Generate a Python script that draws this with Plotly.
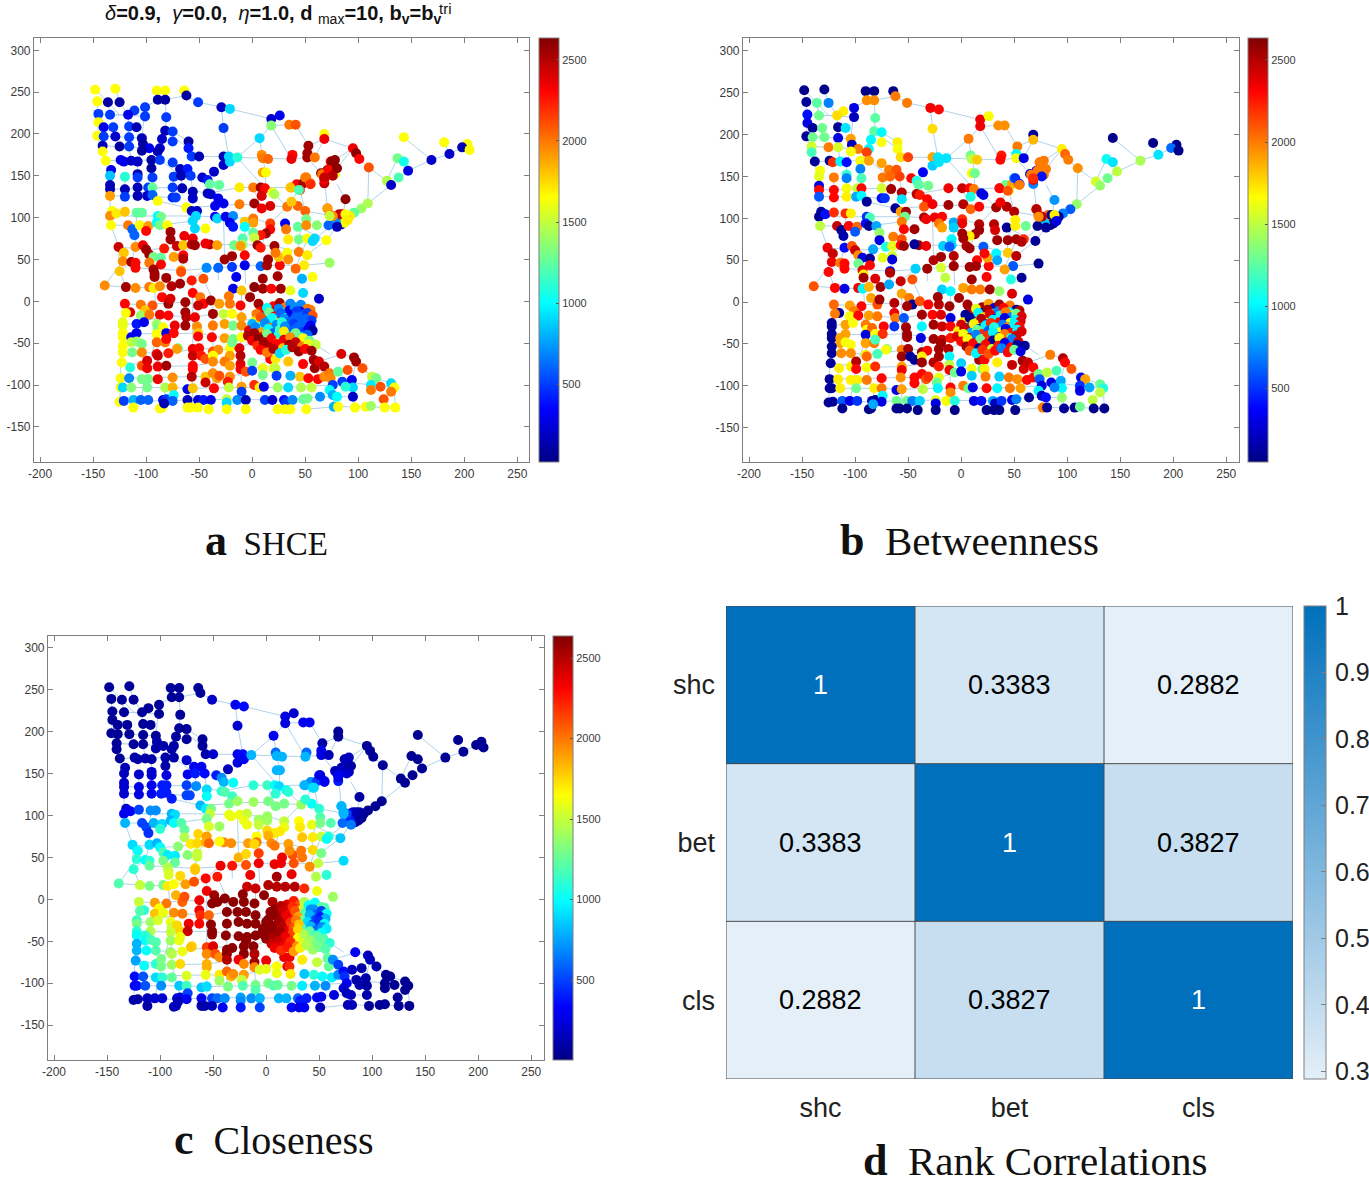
import plotly.graph_objects as go

W, H = 1369, 1180

# ---------- node positions and panel values, by region ----------
nw_x = [-148,-129,-90,-82,-64,-62,-51,-89,-82,-146,
        -136,-125,-111,-101,-145,-134,-117,-101,-81,-29,
        -21,-145,-140,-131,-116,-109,-82,-75,-146,-140,
        -129,-116,-104,-85,-27,-141,-125,-116,-103,-97,
        -87,-75,-60,-60,-141,-104,-89,-57,-50,-27,
        -22,-36,-27,-21,-138,-124,-121,-114,-108,-95,
        -95,-87,-75,-68,-61,-133,-134,-120,-108,-108,
        -94,-74,-67,-58,-47,-42,-40,-31,-134,-134,
        -134,-120,-120,-108,-108,-98,-94,-99,-94,-89,
        -75,-75,-72,-66,-56,-56,-42,-39,-32]
nw_y = [253,254,252,252,252,246,238,241,241,239,
        238,238,228,232,224,223,223,221,220,232,
        230,214,208,208,209,208,204,203,198,197,
        197,196,195,194,207,186,185,185,188,183,
        183,191,191,183,179,180,179,173,173,173,
        173,155,163,167,168,169,167,168,167,169,
        159,169,166,158,158,157,150,149,152,148,
        148,149,150,150,148,145,140,139,139,134,
        126,134,125,136,126,136,136,126,127,120,
        136,124,124,135,131,123,129,128,123]
nw_shce = [1650,1650,1650,1650,1650,100,500,100,100,1650,
           100,100,500,500,500,500,300,500,500,200,
           900,1650,300,500,500,150,150,500,1650,500,
           200,500,150,200,500,150,100,500,100,300,
           200,500,100,400,1650,100,150,500,150,150,
           900,200,200,900,1650,300,300,200,200,100,
           100,500,500,150,400,300,850,1100,150,500,
           500,500,150,500,200,400,1250,1250,150,150,
           1900,150,500,150,150,500,1250,200,600,1650,
           500,450,500,150,150,200,150,200,300]
nw_bet = [60,60,60,60,60,2000,2000,1950,1950,100,
          1250,700,1700,300,400,1300,1750,200,1250,2350,
          2300,300,100,1300,100,950,1250,1000,100,1300,
          1300,300,1900,1000,1750,1550,2000,1550,200,2000,
          1000,1650,1700,1650,1200,1650,2150,1750,2150,1900,
          950,350,900,950,100,100,2200,1000,400,1650,
          700,1900,1900,2000,2100,1650,1600,2000,1150,700,
          1200,2000,2050,2150,2300,1100,1250,1300,300,2300,
          600,2300,2300,1650,1700,1500,2300,800,1000,100,
          1550,400,500,2550,2500,950,2500,2250,2300]
nw_cls = [60,60,60,60,60,60,180,60,60,60,
          60,60,60,60,60,60,60,60,60,300,
          350,60,60,60,60,60,60,60,60,60,
          60,60,60,80,200,60,60,60,100,100,
          100,60,60,60,60,100,100,100,200,300,
          350,150,250,300,60,100,100,100,100,100,
          100,100,200,300,300,150,150,200,200,200,
          250,300,400,350,400,700,800,1000,200,200,
          200,250,250,300,300,400,400,400,400,400,
          500,500,500,700,900,1000,1100,1200,1150]

ne_x = [-14,18,26,18,35,41,7,68,68,53,
        9,10,15,38,37,52,52,59,10,13,
        -12,1,8,12,9,19,21,37,42,48,
        45,50,55,68,65,74,74,71,66,68,
        78,95,98,101,110,143,181,203,198,205,
        186,169,137,143,147,138,127,131,109,103,
        96,88,92,88,85,82,79,82,85,88,
        84,87,90,79,76,73,71,72,80,75,
        72,80,78,76,68,51,55,36,44,71,
        -12,2,9,17,33,43,50,37,73]
ne_y = [172,218,222,210,211,211,195,200,194,186,
        175,171,170,175,170,177,172,172,154,154,
        136,136,136,135,126,130,128,136,140,141,
        133,148,141,141,153,167,157,157,152,146,
        152,183,177,170,160,196,190,188,184,181,
        176,169,171,167,156,148,144,139,117,111,
        106,122,102,100,98,96,102,104,104,104,
        92,94,97,94,102,104,111,91,89,167,
        157,159,169,150,148,148,140,136,133,111,
        116,117,111,114,113,114,108,119,102]
ne_shce = [1100,200,300,1350,2000,2100,900,1650,2350,2550,
           1950,2000,2050,2300,2350,2550,2550,2000,1900,1650,
           1700,2000,2550,2300,2400,1600,1450,2000,2300,2550,
           2200,2000,2000,2450,2600,2300,2350,2550,2000,2300,
           1600,2350,2600,2300,2100,1650,1650,1650,150,1650,
           200,200,1300,1050,250,1200,1450,200,1450,1400,
           1250,2600,1700,200,700,900,1800,2500,2400,1650,
           100,1650,1700,700,1950,2000,2050,600,150,2600,
           2300,2600,2600,2500,2450,2000,2200,1800,1200,1900,
           2000,2550,2350,2400,2000,2050,2050,1800,1500]
ne_bet = [950,2350,1650,2350,1950,1950,2000,100,1850,2000,
          1300,1500,1800,2250,2300,1000,1650,300,1650,1300,
          2350,2450,2300,2000,1100,300,300,2300,1300,1900,
          1700,800,300,700,300,2050,2000,300,2000,2300,
          2000,1700,2050,2000,1950,60,60,60,650,60,
          950,1450,1050,950,1500,1300,1550,1400,1400,600,
          700,750,100,100,1000,1700,1950,2050,100,1700,
          80,100,300,900,2500,2300,2250,80,100,2000,
          2000,2000,2000,400,2200,500,2000,2300,2100,2500,
          2550,2500,2050,2300,2550,2500,2500,2350,1950]
ne_cls = [800,250,200,250,300,300,300,60,60,100,
          600,800,800,600,800,300,250,150,800,800,
          1100,1150,1000,900,1100,1000,1100,800,700,500,
          900,400,400,400,150,100,150,100,150,200,
          150,60,60,60,60,40,40,40,40,40,
          40,40,40,40,40,40,40,40,40,40,
          40,80,50,60,80,120,300,200,150,100,
          70,70,60,400,500,800,800,600,650,150,
          150,100,150,200,300,250,300,800,900,800,
          1400,1300,1300,1300,1400,1000,1100,1100,800]

mid_x = [-132,-134,-128,-120,-109,-104,-89,-86,-62,-57,
         -52,-35,-27,-53,-35,-33,-25,-18,-133,-117,
         -113,-111,-106,-98,-100,-90,-87,-80,-77,-56,
         -7,1,1,-21,-18,-7,17,31,32,43,
         51,51,61,17,13,8,1,2,-9,-54,
         -44,-64,-56,-77,-71,-65,-57,-54,-40,-33,
         -44,-17,-9,-11,5,8,21,34,44,52,
         59,57,70,-126,-110,-103,-100,-97,-83,-121,
         -122,-114,-110,-93,-86,-74,-65,-65,-97,-86,
         -125,-110,-93,-67,-26,-19,-7,-7,-19,-43,
         -32,8,15,14,26,25,33,34,44,52,
         49,41,22,73]
mid_y = [108,102,105,107,106,106,102,101,112,108,
         108,114,117,102,101,99,101,102,91,91,
         86,79,91,90,84,94,91,91,83,96,
         95,99,94,94,89,89,93,93,86,89,
         98,91,91,86,81,79,82,76,75,87,
         87,78,75,74,66,67,68,67,68,67,
         69,67,68,66,67,64,66,74,74,75,
         75,72,73,65,65,67,62,56,63,58,
         48,47,46,53,52,53,55,51,46,44,
         36,40,38,37,50,54,55,43,41,40,
         40,42,50,43,43,53,58,50,59,55,
         43,39,58,46]
mid_shce = [1650,1950,1700,1800,1250,1250,1000,1300,1650,200,
            200,300,300,900,300,900,300,700,1650,2000,
            600,600,1650,1900,2300,1000,1300,1650,2550,900,
            1800,2000,1900,300,400,1000,2150,300,2000,1250,
            1300,1950,1350,2300,2550,2250,1250,1500,1200,900,
            1650,2350,2350,2550,2450,1800,2500,2550,2500,1900,
            2350,1300,1400,1900,2550,2250,2550,1700,1300,1650,
            900,900,1650,2450,1950,2350,2550,2550,2250,1800,
            1950,2550,2300,1300,1250,1900,2300,2500,2000,2300,
            1800,2300,2550,1900,2550,2550,2300,300,500,700,
            600,600,2550,2550,2300,1800,1650,1950,2000,1700,
            1700,2050,2000,1400]
mid_bet = [100,100,400,2200,2200,1700,500,1200,100,1900,
           2550,2100,2350,1300,2550,2350,2350,2300,1500,2450,
           100,150,2300,2050,600,400,100,800,1400,2000,
           800,2200,2350,2000,1900,900,2500,2500,2400,100,
           1700,1700,1300,2550,2550,1700,2550,2550,1000,2300,
           2550,2000,2100,300,1100,1600,2300,2550,2550,2350,
           100,900,900,600,2500,2550,600,2550,2550,2550,
           2200,2500,100,2350,400,2100,2450,1950,800,2450,
           2350,2000,2300,300,100,1600,1550,300,1300,2300,
           2300,2300,2350,300,2500,2550,2500,2550,1550,900,
           2550,2550,2300,2550,2300,1900,1000,800,1800,2500,
           600,1900,2300,80]
mid_cls = [200,300,300,500,700,700,800,900,800,950,
           1300,1300,1400,1500,1600,1600,1600,1500,800,500,
           500,450,800,900,1100,800,1000,1200,1250,1300,
           1400,1400,1400,1600,1600,1500,1500,1650,1700,1600,
           1200,1300,1200,1600,1700,1700,1750,1850,1650,1550,
           1400,1750,1900,1450,1700,1750,1850,2050,1950,1950,
           1650,1900,2000,1750,1950,2000,1900,1800,1700,1500,
           1100,1000,850,900,900,800,1000,1200,1350,1000,
           1100,1000,1100,950,950,1350,1500,1500,1300,1250,
           1100,1250,1450,1750,1850,1750,2150,2350,2100,2350,
           2250,2350,2350,2350,2100,2100,2000,2000,1750,1300,
           1500,1950,1950,900]

low_x = [-139,-119,-110,-97,-92,-92,-81,-93,-87,-76,
         -68,-67,-57,-46,-15,47,57,24,10,-18,
         -10,2,10,18,27,36,48,63,-120,-105,
         -94,-85,-79,-77,-63,-56,-49,-46,-39,-31,
         -22,-21,-11,-2,6,-115,-119,-101,-105,-97,
         -87,-79,-63,-62,-54,-51,-37,-27,-19,-10,
         -122,-122,-109,-102,-90,-89,-84,-73,-63,-52,
         -37,-26,-18,-10,-122,-109,-90,-81,-74,-51,
         -51,-38,-26,-18,-10,-122,-114,-114,-109,-104,
         -90,-82,-81,-70,-71,-56,-50,-37,-32,-21,
         -12,-19,-122,-122,-113,-104,-90,-89,-79,-56,
         -48,-44,-37,-37,-21,-11,-123,-115,-104,-99,
         -99,-89,-81,-56,-56,-26,-21,-11,-11,0]
low_y = [19,17,16,17,33,29,28,16,18,18,
         21,35,25,27,29,27,29,30,27,15,
         13,17,15,15,15,13,10,3,-3,-4,
         -5,5,-3,3,-1,10,5,-3,1,-3,
         6,-3,-5,5,-3,-13,-14,-11,-17,-16,
         -16,-17,-13,-19,-19,-5,-15,-15,-15,-19,
         -25,-29,-27,-25,-27,-33,-31,-29,-29,-30,
         -29,-27,-29,-29,-38,-38,-39,-38,-38,-38,
         -42,-43,-44,-45,-43,-43,-43,-49,-48,-51,
         -49,-49,-45,-56,-57,-57,-56,-60,-58,-56,
         -56,-49,-53,-61,-61,-61,-63,-65,-62,-65,
         -65,-69,-65,-72,-65,-65,-73,-79,-77,-71,
         -80,-78,-77,-77,-81,-72,-77,-75,-81,-73]
low_shce = [1950,2550,1950,2000,2550,2550,2550,1700,1950,2500,
            2550,2100,2250,2100,300,800,1650,2550,2550,300,
            1800,2600,2550,2300,2550,1600,900,200,2300,2000,
            2100,2300,2550,2400,2550,2300,2000,2300,2550,1900,
            2000,2000,2300,2550,2550,2400,1650,1800,1400,2000,
            2350,2300,2550,2500,2350,2450,2550,1500,1650,1900,
            1600,1600,400,300,1400,1300,1650,2350,2550,1950,
            2000,1900,1300,1950,1650,300,1650,300,2300,1800,
            2300,2300,1900,1300,1650,1650,300,1500,1400,1300,
            2050,2000,2300,1300,1900,2350,2300,2100,1950,1650,
            2400,1300,1650,1650,1300,1950,2350,2450,2250,2450,
            2250,2100,1650,1950,1900,2500,1650,1100,2100,2400,
            2350,2350,2550,2300,2300,2000,1900,2400,2350,1300]
low_bet = [2100,2300,300,2350,1700,2550,2400,1000,1850,2550,
           800,2500,2450,2100,1500,1100,100,2300,2550,900,
           1000,1900,2000,2000,2550,1400,2400,300,2050,1900,
           2300,1900,2100,2550,2500,1900,2000,100,2100,2300,
           2550,2500,2550,2550,2550,100,2000,2000,1650,2300,
           1900,2000,2350,2000,600,2550,2550,2300,2400,300,
           100,100,1900,1650,2000,1650,2050,2300,500,2550,
           1000,2550,2450,2300,100,1900,300,1650,2200,2550,
           2550,300,2550,2450,2250,100,1900,1900,1650,1650,
           1900,2000,1200,1300,1650,2000,2550,2550,2300,2550,
           2500,2550,100,100,1950,1950,1700,2050,1200,2550,
           100,100,1700,2550,2550,1000,100,1700,1700,2500,
           2300,1650,2200,1900,2350,2500,2250,1500,2350,900]
low_cls = [1200,1500,1300,1300,1500,1550,1750,1700,1650,1900,
           2100,1800,2300,2250,2350,1450,1100,2350,2550,2450,
           2450,2500,2500,2500,2500,2200,1600,1400,1500,1900,
           2000,1850,2050,2100,2350,2350,2560,2600,2600,2600,
           2600,2600,2600,2600,2500,1100,1200,1650,1800,1600,
           1950,2000,2350,2200,2050,2600,2600,2600,2600,2600,
           1150,1300,1400,1550,1600,1500,1750,2350,2300,2600,
           2600,2600,2600,2600,1100,1450,1500,1750,2450,2600,
           2600,2600,2600,2600,2600,1000,1100,1000,1150,1200,
           1400,1600,1600,1750,1800,2150,2400,2600,2600,2600,
           2600,2600,800,800,1000,1200,1350,1450,1600,1950,
           2100,1950,2600,2500,2600,2500,750,1000,1100,1300,
           1300,1400,1750,1850,1850,2350,1950,2550,1950,2350]

south_x = [-124,-116,-104,-98,-89,-75,-57,-44,-37,-33,
           -31,-21,-23,-124,-122,-114,-99,-82,-75,-61,
           -56,-44,-36,-22,-10,-10,-6,0,10,2,
           7,11,24,34,46,56,17,22,34,48,
           58,59,20,22,10,23,36,45,53,62,
           68,63,68,73,74,76,73,84,96,98,
           104,81,90,85,94,95,88,113,117,112,
           121,112,131,134,131,76,80,95,97,107,
           112,124,125,135,77,81,-125,-121,-112,-105,
           -98,-84,-81,-74,-75,-61,-51,-46,-39,-24,
           -24,-14,-6,12,19,30,32,38,48,52,
           64,-112,-87,-85,-83,-61,-58,-51,-41,-24,
           -6,24,31,36,51]
south_y = [-92,-92,-93,-93,-93,-91,-90,-90,-86,-92,
           -89,-90,-96,-103,-103,-103,-103,-103,-103,-105,
           -104,-97,-104,-103,-102,-108,-84,-83,-80,-100,
           -103,-102,-103,-103,-103,-103,-69,-69,-72,-75,
           -70,-80,-80,-80,-88,-89,-89,-90,-92,-93,
           -90,-72,-78,-86,-92,-100,-106,-63,-67,-72,
           -80,-84,-82,-96,-94,-103,-102,-90,-92,-100,
           -102,-106,-98,-103,-108,-112,-114,-114,-127,-126,
           -125,-117,-127,-127,-126,-126,-120,-119,-118,-118,
           -118,-118,-117,-112,-119,-118,-118,-118,-118,-117,
           -121,-118,-118,-118,-118,-118,-121,-118,-117,-116,
           -114,-127,-128,-127,-122,-127,-127,-127,-129,-129,
           -129,-129,-129,-129,-129]
south_shce = [1650,700,1300,1300,2350,1950,2500,1800,1950,1900,
              2100,1950,2250,1650,900,1350,1300,1450,1850,300,
              1800,2450,2300,1500,1900,500,2100,500,1600,2200,
              1700,300,1400,900,1450,1500,2300,1700,1800,2300,
              2550,2550,1600,1500,1300,500,800,1800,2300,2300,
              1950,2400,2500,2000,1950,500,1000,2400,2550,2550,
              2100,1250,2100,500,300,900,1100,1500,1300,950,
              2100,2000,900,1650,2000,800,1000,200,1650,1650,
              1400,2100,1650,1650,800,1650,1650,500,800,600,
              600,300,500,1000,600,150,200,400,300,1500,
              900,700,150,500,200,400,500,700,1250,1300,
              700,1650,1650,1650,150,1650,1650,1650,1650,1650,
              1650,1650,1650,1650,1650]
south_bet = [100,1700,1700,1700,2000,2300,1950,2300,2300,2100,
             2200,1600,1300,100,100,1700,1300,1700,2000,300,
             1900,2300,1500,1000,2300,1950,1300,300,1650,2000,
             1300,300,2300,1000,2000,1900,2550,2300,1700,2450,
             2550,2400,1300,1700,900,2000,900,2000,1950,2300,
             2300,2450,2300,1300,600,300,1000,2000,2500,2300,
             2100,1500,1200,300,800,1000,700,300,1900,500,
             800,300,1300,1100,1500,200,400,1400,100,100,
             1300,1500,60,60,2000,100,100,100,600,300,
             500,200,100,1000,300,1300,1300,700,900,1600,
             300,1650,1100,300,400,800,200,500,300,700,
             100,60,60,60,800,60,60,60,60,60,
             60,60,60,60,60]
south_cls = [350,550,900,1100,1250,1550,1600,1700,2050,1850,
             1950,1900,1500,300,350,550,700,850,1150,850,
             900,1400,1300,1200,1300,1200,1550,1600,1650,1300,
             1200,1250,1300,950,800,700,2350,2350,1700,1500,
             1250,1250,2350,2200,1600,1700,850,1100,1000,950,
             700,700,500,350,450,300,200,300,150,150,
             100,150,100,100,100,80,100,40,40,40,
             40,40,40,40,40,150,150,100,60,60,
             60,60,60,40,150,150,100,100,150,200,
             200,200,250,500,300,300,500,600,700,750,
             700,700,800,800,800,600,400,400,300,300,
             250,100,100,150,150,100,100,150,300,400,
             500,350,250,300,150]

hub_x = [20,26,31,36,41,46,52,
         8,14,20,25,30,35,40,45,50,55,
         4,10,16,21,27,32,37,42,47,52,57,
         2,8,14,19,25,30,36,41,46,51,56,
         0,6,12,17,23,28,33,39,44,50,55,
         -3,3,9,15,20,26,31,37,42,47,53,57,
         -4,2,8,14,19,25,30,36,41,47,52,
         0,6,12,18,24,30,36,42,48,54,
         5,11,17,23,29,35,41,47,53,60,
         8,14,20,26,32,38,44,50,56]
hub_y = [-6,-2,-7,-3,-8,-4,-9,
         -12,-8,-13,-9,-14,-11,-7,-12,-15,-10,
         -15,-19,-13,-18,-14,-20,-16,-12,-18,-14,-17,
         -24,-19,-25,-20,-26,-21,-24,-19,-25,-21,-23,
         -27,-31,-26,-32,-28,-25,-31,-27,-30,-26,-29,
         -35,-31,-37,-33,-38,-34,-30,-36,-32,-37,-33,-35,
         -41,-38,-43,-39,-44,-40,-36,-42,-38,-43,-40,
         -47,-44,-49,-45,-50,-46,-43,-48,-44,-47,
         -53,-50,-55,-51,-56,-52,-49,-54,-51,-52,
         -58,-61,-57,-62,-58,-55,-60,-57,-59]
hub_shce = [2300,2550,2000,700,1600,700,2000,
            2300,1000,2500,700,1300,300,700,300,600,2000,
            2000,700,1300,2300,600,1000,300,500,600,500,2100,
            1700,2100,800,1000,1400,700,600,600,600,600,500,
            800,1200,700,2000,700,1100,600,500,600,600,300,
            2400,700,1900,1000,600,1200,700,600,600,500,300,100,
            2500,2550,2300,1300,2400,1100,1700,1000,1300,1100,600,
            2350,2600,2550,2300,1500,2350,1950,1200,1650,1300,
            2200,2550,2500,2300,1800,2550,2450,2000,1600,1500,
            2300,2000,2500,900,1100,2500,2550,2300,2550]
hub_bet = [2550,1900,300,2550,700,2000,100,
           2500,1600,300,2550,1300,700,2300,1000,1700,2500,
           100,2550,1000,1700,2400,300,1100,2000,700,1300,2400,
           1700,100,1300,2500,600,1000,2300,300,1650,1000,2400,
           2400,600,1700,100,1000,2200,1300,700,2000,1000,2300,
           1700,2450,800,1300,2200,600,1100,1650,300,2300,1000,2400,
           2400,1650,2450,700,1300,2200,1000,300,2000,1200,2450,
           2300,1650,2500,1300,2400,100,1650,2300,700,2400,
           2550,2300,100,2300,1500,2250,300,2300,100,100,
           2100,1000,2200,2100,2300,700,2300,1300,300]
hub_cls = [2400,2250,2100,1450,1200,1000,1250,
           2600,2500,2350,2200,2000,1500,1000,700,800,1200,
           2600,2550,2450,2300,2100,1800,1200,700,600,500,1000,
           2600,2600,2500,2350,2200,1900,1300,800,500,400,800,
           2600,2600,2550,2450,2200,2000,1500,900,500,450,1000,
           2600,2600,2600,2500,2350,2100,1800,1200,800,600,700,950,
           2600,2600,2600,2550,2350,2150,1750,1400,1250,1100,1000,
           2600,2550,2500,2350,2200,1650,1450,1300,1250,1200,
           2450,2450,2350,2200,1950,1550,1400,1300,1250,1100,
           2350,2200,2250,1900,1700,1450,1400,1300,1200]

# visible road network (None breaks a line)
road_x = [-148,-136,-125,None,-129,-125,None,
          -146,-145,-146,-141,-138,-134,-134,-134,None,
          -136,-134,-116,None,-125,-117,-116,-116,-114,None,
          -101,-89,-82,-62,-51,-29,-21,18,26,None,
          -82,-82,-81,-82,-60,-57,None,
          -101,-104,-104,-108,-108,None,
          -145,-101,None,-146,-104,None,-141,-97,None,
          -82,-75,-60,None,-138,-87,-67,-58,-42,-31,None,
          -57,-27,-14,10,37,52,59,None,
          -29,-27,-21,None,-14,7,18,None,7,10,13,12,None,
          18,37,None,18,18,35,41,None,41,53,52,None,
          53,68,95,98,101,110,127,None,
          110,109,131,None,127,137,None,143,169,186,198,205,None,
          147,169,None,181,186,None,143,147,138,None,
          109,103,96,85,None,88,85,None,88,80,None,
          68,59,None,95,80,68,None,95,78,68,None,
          52,68,None,68,71,71,None,45,50,76,None,
          -134,-75,-66,-42,-12,8,37,51,None,
          -134,-99,-75,None,-120,-120,None,-94,-94,None,
          -67,-66,None,-58,-56,-56,None,-74,-75,None,
          -14,12,None,1,9,2,None,12,21,33,None,51,37,None,
          37,17,13,8,None,51,43,44,52,None,52,41,47,None,
          -89,-62,-35,-12,17,33,43,50,None,
          -134,-89,-53,-35,1,17,None,
          -133,-117,-87,-56,None,
          -127,-100,-83,-65,-40,-9,21,44,None,
          -133,-126,-125,None,-110,-114,-125,None,-109,-110,None,
          -110,-67,-32,-7,26,49,73,None,
          -139,-122,None,-139,-119,-93,-57,-43,None,-119,-125,None,
          -93,-97,None,-57,-65,-67,-67,None,
          -27,-26,-32,-32,None,-7,-7,-6,None,
          43,70,80,None,59,79,None,52,70,None,72,91,None,
          -120,-105,-63,-51,-21,None,
          -120,-122,-122,-122,-124,-124,-125,None,
          -122,-79,-54,-37,-10,None,-122,-90,-51,-26,-10,None,
          -122,-79,-50,-32,-12,15,None,-123,-89,-56,-26,None,
          -124,-57,-21,0,17,None,-124,-82,-56,-22,24,76,None,
          -125,-24,30,64,95,None,-112,-112,None,-61,-61,None,
          -24,-24,None,24,30,None,51,48,None,51,77,107,135,None,
          -105,-99,-89,-81,None,-56,-56,-56,None,
          -6,-10,-11,-10,-10,None,-81,-89,-90,-92,None,
          -37,-37,-37,-46,None,48,63,84,96,104,113,131,134,None,
          63,73,76,77,None,85,112,134,135,None,98,94,97,None,
          0,-6,None,60,73,None,-14,19,None]
road_y = [253,238,223,None,254,238,None,
          239,214,198,179,168,139,126,102,None,
          238,223,223,None,238,223,196,185,168,None,
          232,241,241,246,238,232,230,218,222,None,
          252,241,220,204,183,173,None,
          232,195,180,167,126,None,
          224,221,None,198,195,None,186,183,None,
          204,203,191,None,168,169,150,150,145,139,None,
          173,173,172,171,170,172,172,None,
          232,207,167,None,172,195,210,None,195,171,154,135,None,
          210,170,None,218,210,211,211,None,211,186,177,None,
          186,194,183,177,170,160,144,None,
          160,117,139,None,144,171,None,196,169,176,184,181,None,
          156,169,None,190,176,None,167,156,148,None,
          117,111,106,98,None,122,98,None,122,140,None,
          194,172,None,183,159,148,None,183,169,148,None,
          172,148,None,148,111,102,None,133,108,102,None,
          134,136,135,129,136,136,136,141,None,
          126,126,124,None,149,125,None,148,127,None,
          150,135,None,150,131,123,None,149,136,None,
          172,135,None,136,111,117,None,135,128,113,None,148,119,None,
          119,93,81,64,None,98,75,59,56,None,75,40,28,None,
          120,112,114,116,114,113,114,108,None,
          102,102,102,101,99,93,None,
          91,91,91,96,None,
          65,62,63,67,68,68,66,59,None,
          91,65,36,None,65,47,36,None,106,65,None,
          40,37,40,43,43,43,46,None,
          19,48,None,19,17,16,25,40,None,17,36,None,
          33,46,None,68,55,37,21,None,
          101,50,40,25,None,95,43,20,None,
          89,73,89,None,75,94,None,56,73,None,102,91,None,
          -3,-4,-1,-5,-3,None,
          -3,-25,-38,-53,-73,-103,-120,None,
          -29,-17,-19,-15,-19,None,-38,-39,-38,-44,-43,None,
          -61,-62,-56,-58,-56,-40,None,-73,-78,-77,-72,None,
          -92,-90,-90,-83,-69,None,-103,-103,-104,-103,-103,-100,None,
          -120,-117,-118,-114,-114,None,-127,-118,None,-127,-118,None,
          -129,-117,None,-129,-118,None,-129,-117,None,-129,-126,-126,-127,None,
          -118,-80,-39,-38,None,-127,-57,25,None,
          -129,-108,-65,-19,13,None,-117,-78,-27,16,None,
          -104,-29,1,27,None,-75,-72,-63,-67,-80,-90,-98,-103,None,
          -72,-86,-112,-126,None,-96,-100,-103,-127,None,-72,-94,-127,None,
          -73,-84,None,-52,-63,None,-22,-22,None]

# panel texts and ticks
x_ticks = [-200,-150,-100,-50,0,50,100,150,200,250]
x_tick_text = ["-200","-150","-100","-50","0","50","100","150","200","250"]
y_ticks = [-150,-100,-50,0,50,100,150,200,250,300]
y_tick_text = ["-150","-100","-50","0","50","100","150","200","250","300"]
cbar_ticks = [500,1000,1500,2000,2500]
title_parts = ["δ", "=0.9, ", "γ", "=0.0, ", "η", "=1.0, d", "max", "=10, b", "v", "=b", "v", "tri"]
captions = ["a", "SHCE", "b", "Betweenness", "c", "Closeness", "d", "Rank Correlations"]

# heatmap
rank_labels = ["shc", "bet", "cls"]
rank_values = [[1, 0.3383, 0.2882], [0.3383, 1, 0.3827], [0.2882, 0.3827, 1]]
rank_text = [["1", "0.3383", "0.2882"], ["0.3383", "1", "0.3827"], ["0.2882", "0.3827", "1"]]
rank_ticks = [0.3, 0.4, 0.5, 0.6, 0.7, 0.8, 0.9, 1]
rank_tick_text = ["0.3", "0.4", "0.5", "0.6", "0.7", "0.8", "0.9", "1"]

node_x = nw_x + ne_x + mid_x + low_x + south_x + hub_x
node_y = nw_y + ne_y + mid_y + low_y + south_y + hub_y
shce = nw_shce + ne_shce + mid_shce + low_shce + south_shce + hub_shce
bet = nw_bet + ne_bet + mid_bet + low_bet + south_bet + hub_bet
cls = nw_cls + ne_cls + mid_cls + low_cls + south_cls + hub_cls
assert len(road_x) == len(road_y), (len(road_x), len(road_y))
assert len(node_x) == len(node_y) == len(shce) == len(bet) == len(cls), (
    len(node_x), len(node_y), len(shce), len(bet), len(cls))

JET = [[0, "rgb(0,0,132)"], [0.125, "rgb(0,0,255)"], [0.375, "rgb(0,255,255)"],
       [0.625, "rgb(255,255,0)"], [0.875, "rgb(255,0,0)"], [1, "rgb(128,0,0)"]]
SANS = "Liberation Sans"
SERIF = "Liberation Serif"
GREY = "#7f7f7f"
INK = "#3a3a3a"


def fx(p):
    return p / W


def fy(p):
    return 1 - p / H


fig = go.Figure()
panels = [
    (shce, 34, 529, 38, 462, [-205.7, 261], [-192, 314.7], 539, 20, 2635, ""),
    (bet, 743, 1239, 38, 462, [-205.7, 262], [-191, 315.5], 1248, 50, 2634, "2"),
    (cls, 48, 544, 636, 1060, [-205.7, 262], [-191.5, 314], 553, 3, 2637, "3"),
]
layout_axes = {}
for vals, l, r, t, b, xr, yr, cb, cmin, cmax, sfx in panels:
    fig.add_trace(go.Scatter(x=road_x, y=road_y, mode="lines", xaxis="x" + sfx, yaxis="y" + sfx,
                             line=dict(color="rgb(176,212,234)", width=1), hoverinfo="skip",
                             showlegend=False, connectgaps=False))
    fig.add_trace(go.Scatter(
        x=node_x, y=node_y, mode="markers", xaxis="x" + sfx, yaxis="y" + sfx, showlegend=False,
        marker=dict(size=10, color=vals, cmin=cmin, cmax=cmax, colorscale=JET, line=dict(width=0),
                    colorbar=dict(x=fx(cb), xanchor="left", y=fy(b), yanchor="bottom",
                                  len=(b - t) / H, lenmode="fraction", thickness=20,
                                  thicknessmode="pixels", xpad=0, ypad=0, outlinewidth=1,
                                  outlinecolor=GREY, tickvals=cbar_ticks, ticks="inside", ticklen=3,
                                  tickcolor="#555555", tickfont=dict(family=SANS, size=11, color=INK)))))
    common = dict(showgrid=False, zeroline=False, showline=True, linecolor=GREY, linewidth=1.2,
                  mirror="ticks", ticks="inside", ticklen=5, tickcolor=GREY, automargin=False,
                  tickfont=dict(family=SANS, size=12, color=INK))
    layout_axes["xaxis" + sfx] = dict(common, domain=[fx(l), fx(r)], range=xr, tickvals=x_ticks,
                                      ticktext=x_tick_text, anchor="y" + sfx)
    layout_axes["yaxis" + sfx] = dict(common, domain=[fy(b), fy(t)], range=yr, tickvals=y_ticks,
                                      ticktext=y_tick_text, anchor="x" + sfx)

rank_pos = [0, 1, 2]
fig.add_trace(go.Heatmap(
    x=rank_pos, y=rank_pos, z=rank_values, xaxis="x4", yaxis="y4", zmin=0.2882, zmax=1,
    colorscale=[[0, "#e4eff8"], [1, "#0070bc"]], hoverinfo="skip",
    colorbar=dict(x=fx(1304), xanchor="left", y=fy(1079), yanchor="bottom",
                  len=(1079 - 606) / H, lenmode="fraction", thickness=22,
                  thicknessmode="pixels", xpad=0, ypad=0, outlinewidth=1, outlinecolor=GREY,
                  tickvals=rank_ticks, ticks="inside", ticklen=5, tickcolor=GREY,
                  showticklabels=False)))
layout_axes["xaxis4"] = dict(domain=[fx(726), fx(1293)], range=[-0.5, 2.5], tickvals=rank_pos,
                             ticktext=rank_labels, showgrid=False, zeroline=False, ticks="",
                             showline=False, anchor="y4", ticklabelstandoff=10, automargin=False,
                             tickfont=dict(family=SANS, size=27, color="#222222"))
layout_axes["yaxis4"] = dict(domain=[fy(1079), fy(606)], range=[2.5, -0.5], tickvals=rank_pos,
                             ticktext=rank_labels, showgrid=False, zeroline=False, ticks="",
                             showline=False, anchor="x4", ticklabelstandoff=10, automargin=False,
                             tickfont=dict(family=SANS, size=27, color="#222222"))

shapes = []
for v in [0.5, 1.5]:
    shapes.append(dict(type="line", xref="x4", yref="y4", x0=v, x1=v, y0=-0.5, y1=2.5,
                       line=dict(color="#4a4a4a", width=1)))
    shapes.append(dict(type="line", xref="x4", yref="y4", x0=-0.5, x1=2.5, y0=v, y1=v,
                       line=dict(color="#4a4a4a", width=1)))
shapes.append(dict(type="rect", xref="x4", yref="y4", x0=-0.5, x1=2.5, y0=-0.5, y1=2.5,
                   line=dict(color="#4a4a4a", width=1)))

tp = title_parts
annotations = [
    dict(x=fx(273), y=fy(14), xref="paper", yref="paper", showarrow=False, xanchor="center",
         yanchor="middle", font=dict(family=SANS, size=20, color="#111111"),
         text=(f"<i>{tp[0]}</i><b>{tp[1]}</b> <i>{tp[2]}</i><b>{tp[3]}</b> <i>{tp[4]}</i><b>{tp[5]}</b> "
               f"<sub>{tp[6]}</sub><b>{tp[7]}<sub>{tp[8]}</sub>{tp[9]}<sub>{tp[10]}</sub></b>")),
    dict(x=fx(445), y=fy(8), xref="paper", yref="paper", showarrow=False, xanchor="center",
         yanchor="middle", font=dict(family=SANS, size=15, color="#111111"), text=tp[11]),
]
for i, row in enumerate(rank_text):
    for j, label in enumerate(row):
        annotations.append(dict(x=rank_pos[j], y=rank_pos[i], xref="x4", yref="y4", showarrow=False,
                                text=label, font=dict(family=SANS, size=27,
                                                      color="white" if label == "1" else "black")))
for tick, label in zip(rank_ticks, rank_tick_text):
    # colorbar labels, placed along the colorbar's own 0.2882-1 scale
    annotations.append(dict(
        x=fx(1333), xanchor="left", y=fy(1079) + (tick - 0.2882) / (1 - 0.2882) * (1079 - 606) / H,
        yanchor="middle", xref="paper", yref="paper", showarrow=False, text=label,
        font=dict(family=SANS, size=25, color="#222222")))
caption_spec = [
    (266, 541, 0, 44, 33), (970, 541, 2, 44, 41),
    (274, 1139, 4, 44, 40), (1035, 1160, 6, 44, 41),
]
for cx, cy, i, s1, s2 in caption_spec:
    annotations.append(dict(
        x=fx(cx), y=fy(cy), xref="paper", yref="paper", showarrow=False, xanchor="center",
        yanchor="middle", font=dict(family=SERIF, size=s2, color="#111111"),
        text=f"<b style='font-size:{s1}px'>{captions[i]}</b>  {captions[i + 1]}"))

fig.update_layout(width=W, height=H, margin=dict(l=0, r=0, t=0, b=0), autosize=False,
                  paper_bgcolor="white", plot_bgcolor="white", showlegend=False,
                  shapes=shapes, annotations=annotations, **layout_axes)
fig.write_html("out.html", config={"displayModeBar": False},
               post_script="document.body.style.margin='0';")
